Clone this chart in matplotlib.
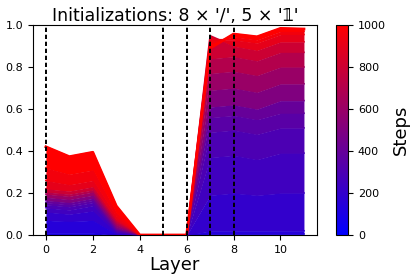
import matplotlib
matplotlib.use("Agg")
import matplotlib.pyplot as plt
from matplotlib.colors import LinearSegmentedColormap, Normalize
from matplotlib.cm import ScalarMappable

layers = list(range(12))
dashed_layers = [0, 5, 6, 7, 8]

# key training steps, and the value at each layer for that step
steps = [0, 100, 150, 200, 250, 300, 350, 400, 500, 600, 700, 800, 900, 950, 1000]
step_0    = [0.00, 0.00, 0.00, 0.000, 0, 0, 0, 0.00, 0.00, 0.00, 0.00, 0.00]
step_100  = [0.01, 0.01, 0.01, 0.001, 0, 0, 0, 0.005, 0.005, 0.005, 0.005, 0.005]
step_150  = [0.07, 0.065, 0.07, 0.005, 0, 0, 0, 0.02, 0.02, 0.02, 0.02, 0.02]
step_200  = [0.11, 0.10, 0.115, 0.010, 0, 0, 0, 0.19, 0.20, 0.19, 0.20, 0.20]
step_250  = [0.13, 0.12, 0.14, 0.015, 0, 0, 0, 0.37, 0.38, 0.36, 0.39, 0.39]
step_300  = [0.145, 0.135, 0.155, 0.020, 0, 0, 0, 0.49, 0.50, 0.48, 0.51, 0.51]
step_350  = [0.155, 0.145, 0.165, 0.025, 0, 0, 0, 0.56, 0.57, 0.55, 0.58, 0.58]
step_400  = [0.165, 0.155, 0.175, 0.030, 0, 0, 0, 0.61, 0.62, 0.60, 0.64, 0.64]
step_500  = [0.18, 0.17, 0.19, 0.040, 0, 0, 0, 0.69, 0.70, 0.68, 0.72, 0.72]
step_600  = [0.195, 0.185, 0.205, 0.050, 0, 0, 0, 0.77, 0.78, 0.76, 0.80, 0.80]
step_700  = [0.205, 0.195, 0.215, 0.060, 0, 0, 0, 0.84, 0.85, 0.83, 0.87, 0.87]
step_800  = [0.22, 0.21, 0.23, 0.070, 0, 0, 0, 0.949, 0.90, 0.88, 0.92, 0.92]
step_900  = [0.26, 0.24, 0.26, 0.085, 0, 0, 0, 0.93, 0.93, 0.915, 0.955, 0.955]
step_950  = [0.32, 0.29, 0.31, 0.105, 0, 0, 0, 0.91, 0.945, 0.93, 0.97, 0.97]
step_1000 = [0.42, 0.373, 0.394, 0.138, 0, 0, 0, 0.89, 0.957, 0.944, 0.984, 0.981]

curves = [step_0, step_100, step_150, step_200, step_250, step_300, step_350, step_400,
          step_500, step_600, step_700, step_800, step_900, step_950, step_1000]

cmap = LinearSegmentedColormap.from_list("blue_red", ["blue", "red"])
norm = Normalize(vmin=0, vmax=1000)

fig = plt.figure(figsize=(4.15, 2.77), dpi=100)
ax = fig.add_axes([0.0795, 0.1516, 0.684, 0.758])

# later steps drawn on top, like the original line stack
for k in range(1, len(steps)):
    c = cmap(norm(steps[k]))
    ax.fill_between(layers, curves[k - 1], curves[k], color=c, lw=0, zorder=k)
    ax.plot(layers, curves[k], color=c, lw=1.2, zorder=k + 0.5)
ax.plot(layers, step_1000, color="red", lw=2.0, zorder=20)

for x in dashed_layers:
    ax.axvline(x, color="black", lw=1.4, dashes=(2.2, 1.4), zorder=30)

ax.set_xlim(-0.55, 11.55)
ax.set_ylim(0, 1)
ax.set_xticks([0, 2, 4, 6, 8, 10])
ax.set_yticks([0.0, 0.2, 0.4, 0.6, 0.8, 1.0])
ax.tick_params(labelsize=8)
ax.set_xlabel("Layer", fontsize=13, labelpad=1)
ax.set_title("Initializations: 8 × '/', 5 × '𝟙'", fontsize=12.5, pad=3,
             family=["DejaVu Sans", "Noto Sans"])

cax = fig.add_axes([0.81, 0.1516, 0.029, 0.758])
cb = fig.colorbar(ScalarMappable(norm=norm, cmap=cmap), cax=cax)
cb.set_ticks([0, 200, 400, 600, 800, 1000])
cb.ax.tick_params(labelsize=8)
cb.set_label("Steps", fontsize=13)

fig.savefig("out.png", dpi=100)
